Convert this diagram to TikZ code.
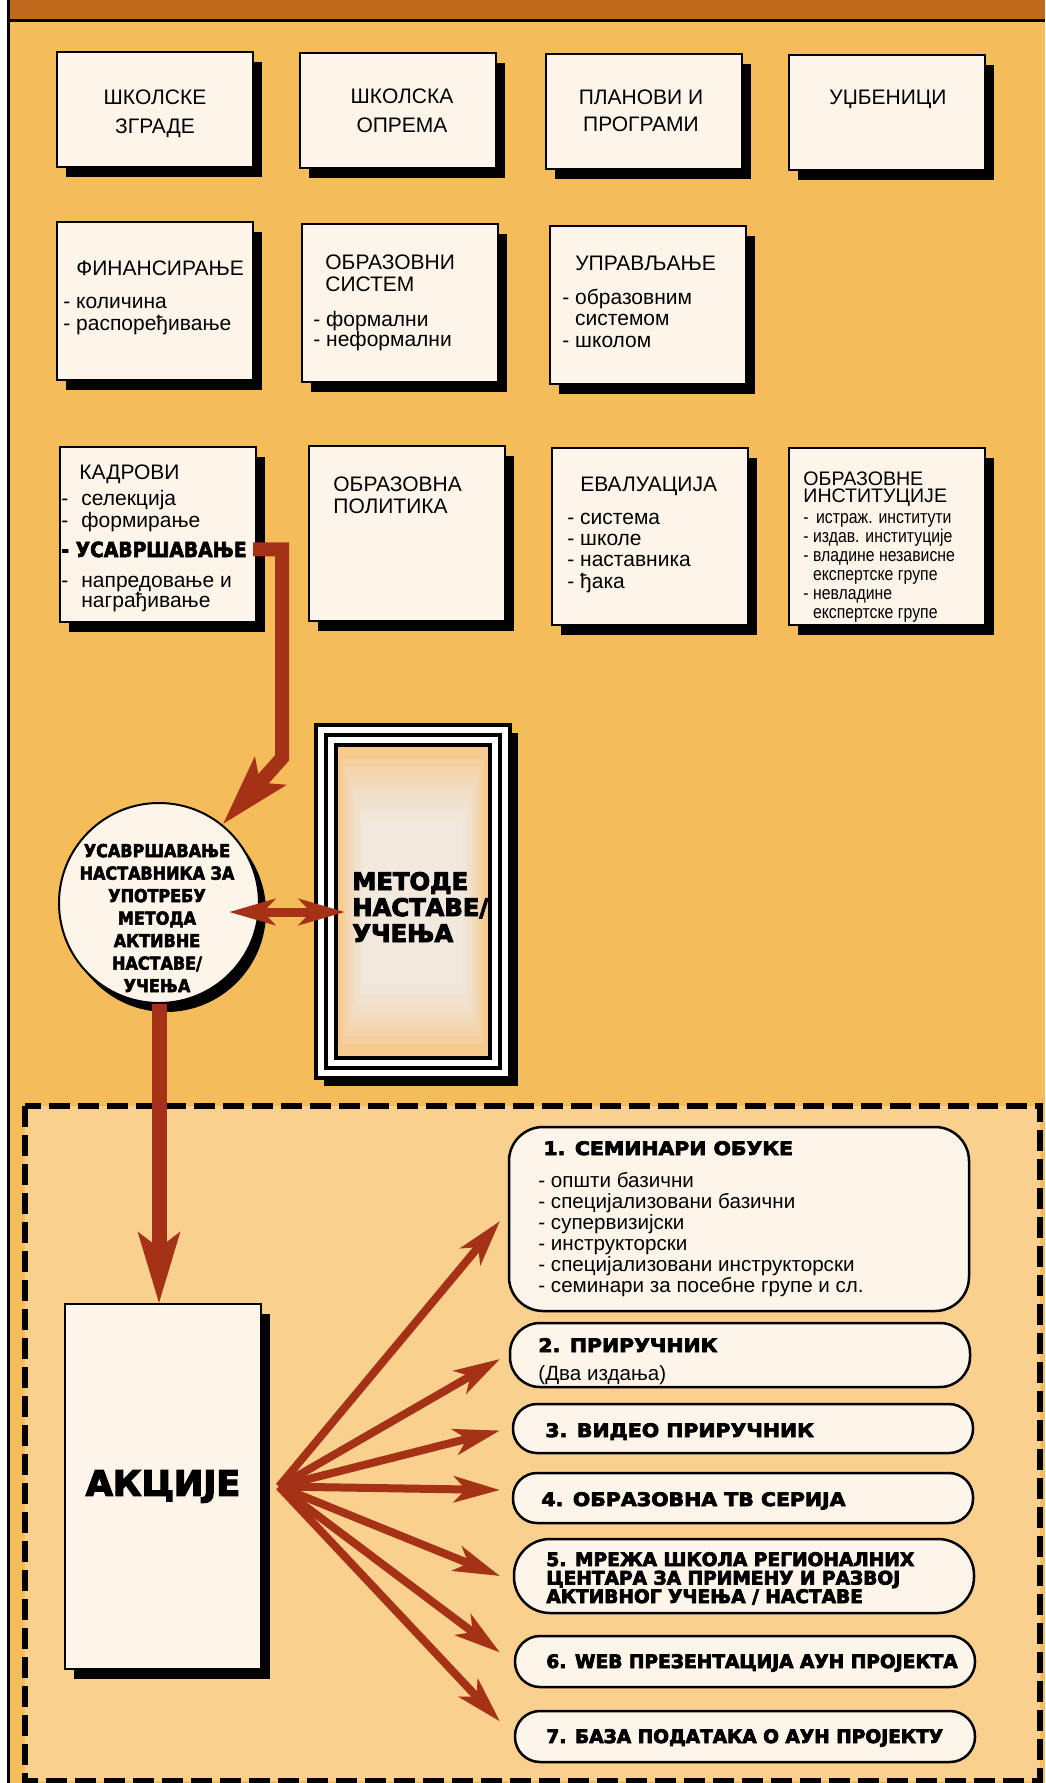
\documentclass[tikz,border=0pt]{standalone}
\usepackage{fontspec}
\setmainfont{Liberation Sans}
\newfontfamily\heavyfont{DejaVu Sans}[BoldFeatures={FakeBold=4}]
\newfontfamily\wideheavy{DejaVu Sans}[BoldFeatures={FakeBold=4,FakeStretch=1.1}]
\newfontfamily\slimheavy{DejaVu Sans}[BoldFeatures={FakeBold=3,FakeStretch=0.9}]
\newfontfamily\narrowfont{Liberation Sans}[FakeStretch=0.85]
\usetikzlibrary{arrows.meta,shadows,positioning}

\definecolor{band}{HTML}{C0681C}
\definecolor{page}{HTML}{F5BC5A}
\definecolor{actzone}{HTML}{F9D08E}
\definecolor{paper}{HTML}{FDF5EA}
\definecolor{rust}{HTML}{A53216}
\definecolor{glow}{HTML}{F1EBE4}
\definecolor{glowedge}{HTML}{F6C98C}

\newcommand{\kdash}{-\hspace{6.5pt}}

\tikzset{
  panel/.style={draw, line width=1pt, fill=paper, anchor=north west, inner sep=0pt, outer sep=0pt,
    minimum width=98pt, general shadow={fill=black, shadow xshift=4.5pt, shadow yshift=-5pt}},
  head/.style={anchor=base, inner sep=0pt, font=\fontsize{10.5}{14.5}\selectfont, align=center},
  lst/.style={anchor=base west, inner sep=0pt, font=\fontsize{10.5}{10.6}\selectfont, align=left},
  blk/.style={anchor=base west, inner sep=0pt, font=\heavyfont\bfseries\fontsize{9.3}{9.25}\selectfont, align=left},
  blkwide/.style={blk, font=\wideheavy\bfseries\fontsize{9.3}{9.25}\selectfont},
  item/.style={draw, line width=1.25pt, fill=paper, anchor=north west, inner sep=0pt, outer sep=0pt,
    minimum width=230pt},
  fat/.style={draw=rust, line width=7.5pt, -{Stealth[length=35pt, width=20pt, inset=7pt]}},
  fan/.style={draw=rust, line width=4pt, -{Stealth[length=23pt, width=13pt, inset=6pt]}},
}

\begin{document}
\begin{tikzpicture}[x=0.5pt, y=-0.5pt]
  \useasboundingbox (0,0) rectangle (1045,1783);

  % page and header band
  \fill[white] (0,0) rectangle (1045,1783);
  \fill[page] (9,0) rectangle (1045,1783);
  \fill[band] (9,0) rectangle (1045,19);
  \draw[line width=1.5pt] (9,20) -- (1045,20);
  \draw[line width=1.5pt] (8.5,0) -- (8.5,1783);

  % first row (multi-line texts sit on the baseline of their last line)
  \node[panel, minimum height=57.5pt] (zgrade) at (57,52) {};
  \node[head] (zgradetxt) at (155,133) {ШКОЛСКЕ\\ЗГРАДЕ};
  \node[panel, minimum height=57.5pt] (oprema) at (300,53) {};
  \node[head] (opremetxt) at (402,132) {ШКОЛСКА\\ОПРЕМА};
  \node[panel, minimum height=57.5pt] (planovi) at (546,54) {};
  \node[head, font=\fontsize{10.5}{13.5}\selectfont] (planovitxt) at (641,131) {ПЛАНОВИ И\\ПРОГРАМИ};
  \node[panel, minimum height=57.5pt] (udzb) at (789,55) {};
  \node[head] (udzbtxt) at (888,104) {УЏБЕНИЦИ};

  % second row
  \node[panel, minimum height=79pt] (fin) at (57,222) {};
  \node[lst] (fintxt) at (76,275) {ФИНАНСИРАЊЕ};
  \node[lst, font=\fontsize{10.5}{11}\selectfont] (finlist) at (63,330) {- количина\\- распоређивање};
  \node[panel, minimum height=79pt] (sist) at (302,224) {};
  \node[lst] (sisttxt) at (325,291) {ОБРАЗОВНИ\\СИСТЕМ};
  \node[lst, font=\fontsize{10.5}{10}\selectfont] (sistlist) at (313,346) {- формални\\- неформални};
  \node[panel, minimum height=79pt] (uprav) at (550,226) {};
  \node[lst] (upravtxt) at (575,270) {УПРАВЉАЊЕ};
  \node[lst] (upravlist) at (562,347) {- образовним\\\phantom{- }системом\\- школом};

  % third row
  \node[panel, minimum height=87.5pt] (kadr) at (60,447) {};
  \node[lst] (kadrtxt) at (79,479) {КАДРОВИ};
  \node[lst] (kadrlist) at (61,527) {\kdash селекција\\\kdash формирање};
  \node[anchor=base west, inner sep=0pt, font=\slimheavy\bfseries\fontsize{10.4}{10}\selectfont] (usavr) at (61,557) {- УСАВРШАВАЊЕ};
  \node[lst, font=\fontsize{10.5}{10}\selectfont] (kadrlist2) at (61,607) {\kdash напредовање и\\\hspace*{10pt}награђивање};
  \node[panel, minimum height=87.5pt] (polit) at (309,446) {};
  \node[lst] (polittxt) at (333,513) {ОБРАЗОВНА\\ПОЛИТИКА};
  \node[panel, minimum height=88.5pt] (eval) at (552,448) {};
  \node[lst] (evaltxt) at (580,491) {ЕВАЛУАЦИЈА};
  \node[lst] (evallist) at (567,588) {- система\\- школе\\- наставника\\- ђака};
  \node[panel, minimum height=88.5pt] (inst) at (789,448) {};
  \node[lst, font=\fontsize{9.8}{8.5}\selectfont] (insttxt) at (803,502) {ОБРАЗОВНЕ\\ИНСТИТУЦИЈЕ};
  \node[lst, font=\narrowfont\fontsize{9.3}{9.5}\selectfont] (instlist) at (803,618)
    {-\, истраж. институти\\- издав. институције\\- владине независне\\\phantom{- }експертске групе\\- невладине\\\phantom{- }експертске групе};

  % action zone
  \draw[fill=actzone, line width=3pt, dash pattern=on 10.5pt off 4pt] (25,1106) rectangle (1040,1781);

  % teacher training circle
  \node[circle, draw, line width=1pt, fill=paper, minimum size=100pt, inner sep=0pt,
    general shadow={fill=black, shadow xshift=3.5pt, shadow yshift=-4.5pt}] (usav) at (159,903) {};
  \node[align=center, inner sep=0pt, font=\slimheavy\bfseries\fontsize{8.9}{11.25}\selectfont] (usavtxt) at (157,918)
    {УСАВРШАВАЊЕ\\НАСТАВНИКА ЗА\\УПОТРЕБУ\\МЕТОДА\\АКТИВНЕ\\НАСТАВЕ/\\УЧЕЊА};

  % methods frame
  \node[draw, line width=2pt, fill=white, anchor=north west, inner sep=0pt, outer sep=0pt,
    minimum width=97pt, minimum height=176.5pt,
    general shadow={fill=black, shadow xshift=4pt, shadow yshift=-4pt}] (metode) at (316,725) {};
  \draw[line width=2pt] ([shift={(10,10)}]metode.north west) rectangle ([shift={(-10,-10)}]metode.south east);
  \fill[glowedge] ([shift={(20,20)}]metode.north west) rectangle ([shift={(-20,-20)}]metode.south east);
  \fill[glow, opacity=0.2] ([shift={(26,34)}]metode.north west) rectangle ([shift={(-26,-34)}]metode.south east);
  \fill[glow, opacity=0.2] ([shift={(29,42)}]metode.north west) rectangle ([shift={(-29,-42)}]metode.south east);
  \fill[glow, opacity=0.2] ([shift={(32,50)}]metode.north west) rectangle ([shift={(-32,-50)}]metode.south east);
  \fill[glow, opacity=0.2] ([shift={(35,58)}]metode.north west) rectangle ([shift={(-35,-58)}]metode.south east);
  \fill[glow, opacity=0.25] ([shift={(38,66)}]metode.north west) rectangle ([shift={(-38,-66)}]metode.south east);
  \fill[glow, opacity=0.3] ([shift={(41,74)}]metode.north west) rectangle ([shift={(-41,-74)}]metode.south east);
  \fill[glow, opacity=0.4] ([shift={(44,84)}]metode.north west) rectangle ([shift={(-44,-84)}]metode.south east);
  \fill[glow, opacity=0.5] ([shift={(47,94)}]metode.north west) rectangle ([shift={(-47,-94)}]metode.south east);
  \draw[line width=2pt] ([shift={(20,20)}]metode.north west) rectangle ([shift={(-20,-20)}]metode.south east);
  \node[anchor=base west, inner sep=0pt, align=left, font=\heavyfont\bfseries\fontsize{12.1}{13}\selectfont] (metodetxt) at (352,942)
    {МЕТОДЕ\\НАСТАВЕ/\\УЧЕЊА};

  % actions
  \node[panel, minimum height=182.5pt, font=\heavyfont\bfseries\fontsize{17.5}{18}\selectfont] (akcije) at (65,1304) {АКЦИЈЕ};

  \node[item, minimum height=92pt, rounded corners=17pt] (s1) at (509,1127) {};
  \node[blkwide] (s1txt) at (543,1155) {1. СЕМИНАРИ ОБУКЕ};
  \node[lst, font=\fontsize{10.3}{10.5}\selectfont] (s1list) at (538,1292)
    {- општи базични\\- специјализовани базични\\- супервизијски\\- инструкторски\\- специјализовани инструкторски\\- семинари за посебне групе и сл.};
  \node[item, minimum height=32pt, rounded corners=15pt] (s2) at (510,1323) {};
  \node[blkwide] (s2txt) at (538,1352) {2. ПРИРУЧНИК};
  \node[lst, font=\fontsize{10.3}{10.5}\selectfont] (s2list) at (538,1380) {(Два издања)};
  \node[item, minimum height=24.5pt, rounded corners=12pt] (s3) at (513,1404) {};
  \node[blkwide] (s3txt) at (545,1437) {3. ВИДЕО ПРИРУЧНИК};
  \node[item, minimum height=25pt, rounded corners=12pt] (s4) at (513,1473) {};
  \node[blkwide] (s4txt) at (541,1506) {4. ОБРАЗОВНА ТВ СЕРИЈА};
  \node[item, minimum height=37pt, rounded corners=18pt] (s5) at (514,1539) {};
  \node[blk] (s5txt) at (546,1603) {5. МРЕЖА ШКОЛА РЕГИОНАЛНИХ\\ЦЕНТАРА ЗА ПРИМЕНУ И РАЗВОЈ\\АКТИВНОГ УЧЕЊА / НАСТАВЕ};
  \node[item, minimum height=25.5pt, rounded corners=12.5pt] (s6) at (515,1636) {};
  \node[blk] (s6txt) at (546,1668) {6. WEB ПРЕЗЕНТАЦИЈА АУН ПРОЈЕКТА};
  \node[item, minimum height=25.5pt, rounded corners=12.5pt] (s7) at (515,1711) {};
  \node[blk] (s7txt) at (546,1743) {7. БАЗА ПОДАТАКА О АУН ПРОЈЕКТУ};

  % connectors
  \coordinate (bend) at (282,758);
  \draw[fat, line width=7pt] ([xshift=3]usavr.east) -| (bend) -- (usav.51);
  \draw[rust, line width=4.5pt, {Stealth[length=23pt, width=13pt, inset=6pt]}-{Stealth[length=23pt, width=13pt, inset=6pt]}]
    ([shift={(-31,9)}]usav.east) -- ([shift={(29,10.5)}]metode.west);
  \draw[fat] (usav.south) -- (usav.south |- akcije.north);

  \coordinate (hub) at ([xshift=9]akcije.east);
  \draw[fan] (hub) -- ([shift={(-9,2)}]s1.west);
  \draw[fan] (hub) -- ([shift={(-10,4)}]s2.west);
  \draw[fan] (hub) -- ([shift={(-13,2)}]s3.west);
  \draw[fan] (hub) -- ([shift={(-13,-8)}]s4.west);
  \draw[fan] (hub) -- ([shift={(-14,0)}]s5.west);
  \draw[fan] (hub) -- ([shift={(-15,-9)}]s6.west);
  \draw[fan] (hub) -- ([shift={(-15,-15)}]s7.west);
\end{tikzpicture}
\end{document}
